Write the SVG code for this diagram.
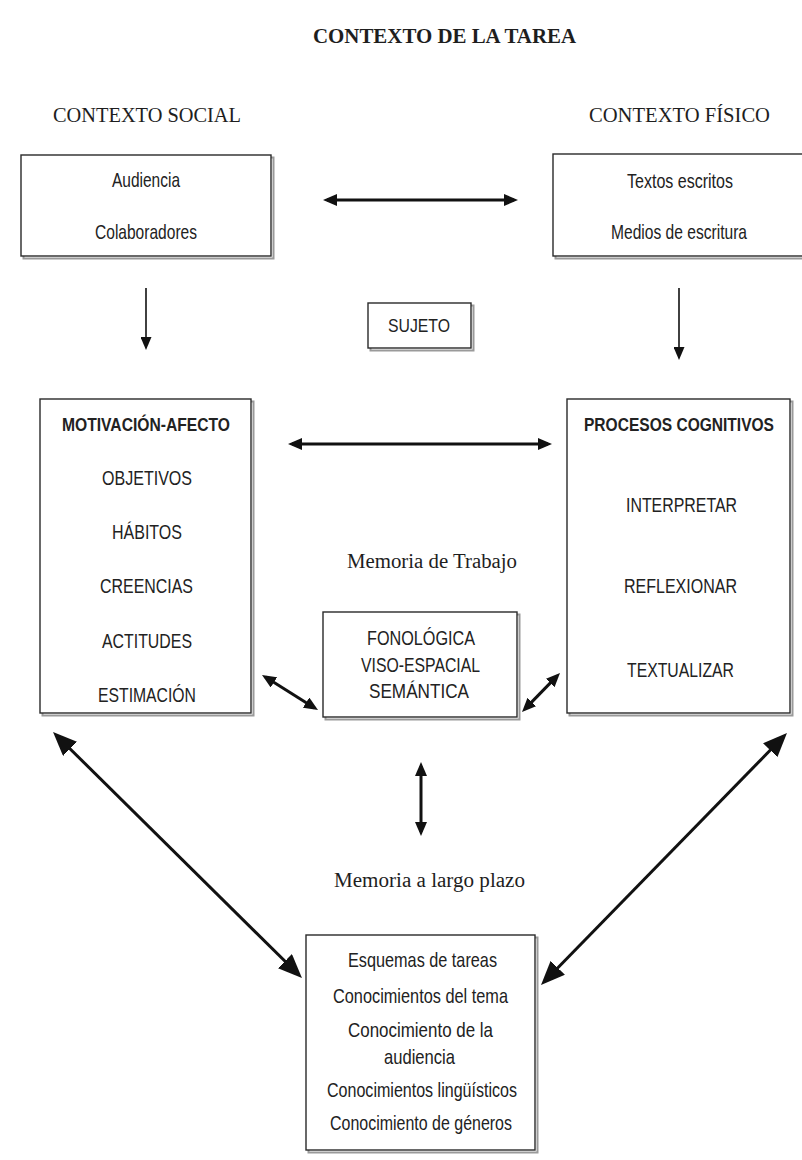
<svg xmlns="http://www.w3.org/2000/svg" width="802" height="1160" viewBox="0 0 802 1160">
<style>
  .bg { fill: #ffffff; }
  .shadow { fill: none; stroke: #9a9a9a; stroke-width: 2; }
  .box { fill: #ffffff; stroke: #2a2a2a; stroke-width: 1.4; }
  .serif { font-family: "Liberation Serif", "Times New Roman", serif; fill: #1e1e1e; text-anchor: middle; }
  .sans { font-family: "Liberation Sans", Arial, sans-serif; fill: #222222; text-anchor: middle; font-size: 21px; }
  .bold { font-weight: bold; font-size: 18px; }
  .conn { stroke: #111111; fill: none; }
  .thick { stroke-width: 3; }
  .thin { stroke-width: 1.6; }
</style>
<defs>
  <marker id="mS" viewBox="0 0 13 11" refX="10" refY="5.5" markerWidth="13" markerHeight="11" markerUnits="userSpaceOnUse" orient="auto-start-reverse">
    <path d="M0,0 L13,5.5 L0,11 z" fill="#111111"/>
  </marker>
  <marker id="mM" viewBox="0 0 14 12" refX="10" refY="6" markerWidth="14" markerHeight="12" markerUnits="userSpaceOnUse" orient="auto-start-reverse">
    <path d="M0,0 L14,6 L0,12 z" fill="#111111"/>
  </marker>
  <marker id="mL" viewBox="0 0 24 20" refX="18" refY="10" markerWidth="24" markerHeight="20" markerUnits="userSpaceOnUse" orient="auto-start-reverse">
    <path d="M0,0 L24,10 L0,20 z" fill="#111111"/>
  </marker>
</defs>
<rect class="bg" x="0" y="0" width="802" height="1160"/>

<g id="labels">
  <text class="serif" x="444.5" y="43" font-size="20" font-weight="bold" textLength="263" lengthAdjust="spacingAndGlyphs">CONTEXTO DE LA TAREA</text>
  <text class="serif" x="147" y="122" font-size="22" textLength="188" lengthAdjust="spacingAndGlyphs">CONTEXTO SOCIAL</text>
  <text class="serif" x="679.5" y="122" font-size="22" textLength="181" lengthAdjust="spacingAndGlyphs">CONTEXTO FÍSICO</text>
  <text class="serif" x="432" y="568" font-size="20" textLength="170" lengthAdjust="spacingAndGlyphs">Memoria de Trabajo</text>
  <text class="serif" x="429.5" y="887" font-size="20" textLength="191" lengthAdjust="spacingAndGlyphs">Memoria a largo plazo</text>
</g>

<g id="connectors">
  <line class="conn thick" x1="327" y1="200" x2="514" y2="200" marker-start="url(#mM)" marker-end="url(#mM)"/>
  <line class="conn thick" x1="292" y1="444" x2="548" y2="444" marker-start="url(#mM)" marker-end="url(#mM)"/>
  <line class="conn thin" x1="146" y1="288" x2="146" y2="347" marker-end="url(#mS)"/>
  <line class="conn thin" x1="679" y1="288" x2="679" y2="357" marker-end="url(#mS)"/>
  <line class="conn thick" x1="265.4" y1="677.1" x2="314.6" y2="707.9" marker-start="url(#mM)" marker-end="url(#mM)"/>
  <line class="conn thick" x1="524.8" y1="709.1" x2="557.2" y2="675.9" marker-start="url(#mM)" marker-end="url(#mM)"/>
  <line class="conn thick" x1="421" y1="766" x2="421" y2="832" marker-start="url(#mM)" marker-end="url(#mM)"/>
  <line class="conn thick" x1="57.3" y1="736.2" x2="297.7" y2="973.8" marker-start="url(#mL)" marker-end="url(#mL)"/>
  <line class="conn thick" x1="782.8" y1="737.3" x2="545.2" y2="980.7" marker-start="url(#mL)" marker-end="url(#mL)"/>
</g>

<g id="contexto-social">
  <rect class="shadow" x="23.5" y="157.5" width="250" height="101"/>
  <rect class="box" x="21" y="155" width="250" height="101"/>
  <text class="sans" x="146" y="187" textLength="68" lengthAdjust="spacingAndGlyphs">Audiencia</text>
  <text class="sans" x="146" y="239" textLength="102" lengthAdjust="spacingAndGlyphs">Colaboradores</text>
</g>

<g id="contexto-fisico">
  <rect class="shadow" x="555.5" y="156.5" width="260" height="102"/>
  <rect class="box" x="553" y="154" width="260" height="102"/>
  <text class="sans" x="680" y="188" textLength="106" lengthAdjust="spacingAndGlyphs">Textos escritos</text>
  <text class="sans" x="679" y="239" textLength="136" lengthAdjust="spacingAndGlyphs">Medios de escritura</text>
</g>

<g id="sujeto">
  <rect class="shadow" x="370.5" y="305.5" width="103" height="45"/>
  <rect class="box" x="368" y="303" width="103" height="45"/>
  <text class="sans" x="419" y="332" style="font-size:19px" textLength="62" lengthAdjust="spacingAndGlyphs">SUJETO</text>
</g>

<g id="motivacion-afecto">
  <rect class="shadow" x="42.5" y="401.5" width="211" height="314"/>
  <rect class="box" x="40" y="399" width="211" height="314"/>
  <text class="sans bold" x="146" y="431" textLength="168" lengthAdjust="spacingAndGlyphs">MOTIVACIÓN-AFECTO</text>
  <text class="sans" x="147" y="485" textLength="90" lengthAdjust="spacingAndGlyphs">OBJETIVOS</text>
  <text class="sans" x="147" y="539" textLength="70" lengthAdjust="spacingAndGlyphs">HÁBITOS</text>
  <text class="sans" x="146.5" y="593" textLength="93" lengthAdjust="spacingAndGlyphs">CREENCIAS</text>
  <text class="sans" x="147" y="648" textLength="90" lengthAdjust="spacingAndGlyphs">ACTITUDES</text>
  <text class="sans" x="147" y="702" textLength="98" lengthAdjust="spacingAndGlyphs">ESTIMACIÓN</text>
</g>

<g id="procesos-cognitivos">
  <rect class="shadow" x="569.5" y="401.5" width="223" height="314"/>
  <rect class="box" x="567" y="399" width="223" height="314"/>
  <text class="sans bold" x="679" y="431" textLength="190" lengthAdjust="spacingAndGlyphs">PROCESOS COGNITIVOS</text>
  <text class="sans" x="681.5" y="512" textLength="111" lengthAdjust="spacingAndGlyphs">INTERPRETAR</text>
  <text class="sans" x="680.5" y="593" textLength="113" lengthAdjust="spacingAndGlyphs">REFLEXIONAR</text>
  <text class="sans" x="680.5" y="677" textLength="107" lengthAdjust="spacingAndGlyphs">TEXTUALIZAR</text>
</g>

<g id="memoria-trabajo">
  <rect class="shadow" x="325.5" y="614.5" width="194" height="105"/>
  <rect class="box" x="323" y="612" width="194" height="105"/>
  <text class="sans" x="421" y="645" textLength="108" lengthAdjust="spacingAndGlyphs">FONOLÓGICA</text>
  <text class="sans" x="420.5" y="672" textLength="119" lengthAdjust="spacingAndGlyphs">VISO-ESPACIAL</text>
  <text class="sans" x="419" y="698" textLength="100" lengthAdjust="spacingAndGlyphs">SEMÁNTICA</text>
</g>

<g id="memoria-largo-plazo">
  <rect class="shadow" x="308.5" y="937.5" width="229" height="215"/>
  <rect class="box" x="306" y="935" width="229" height="215"/>
  <text class="sans" x="422.5" y="967" textLength="149" lengthAdjust="spacingAndGlyphs">Esquemas de tareas</text>
  <text class="sans" x="420.5" y="1003" textLength="175" lengthAdjust="spacingAndGlyphs">Conocimientos del tema</text>
  <text class="sans" x="420.5" y="1037" textLength="145" lengthAdjust="spacingAndGlyphs">Conocimiento de la</text>
  <text class="sans" x="419.5" y="1064" textLength="71" lengthAdjust="spacingAndGlyphs">audiencia</text>
  <text class="sans" x="422" y="1097" textLength="190" lengthAdjust="spacingAndGlyphs">Conocimientos lingüísticos</text>
  <text class="sans" x="421" y="1130" textLength="182" lengthAdjust="spacingAndGlyphs">Conocimiento de géneros</text>
</g>
</svg>
